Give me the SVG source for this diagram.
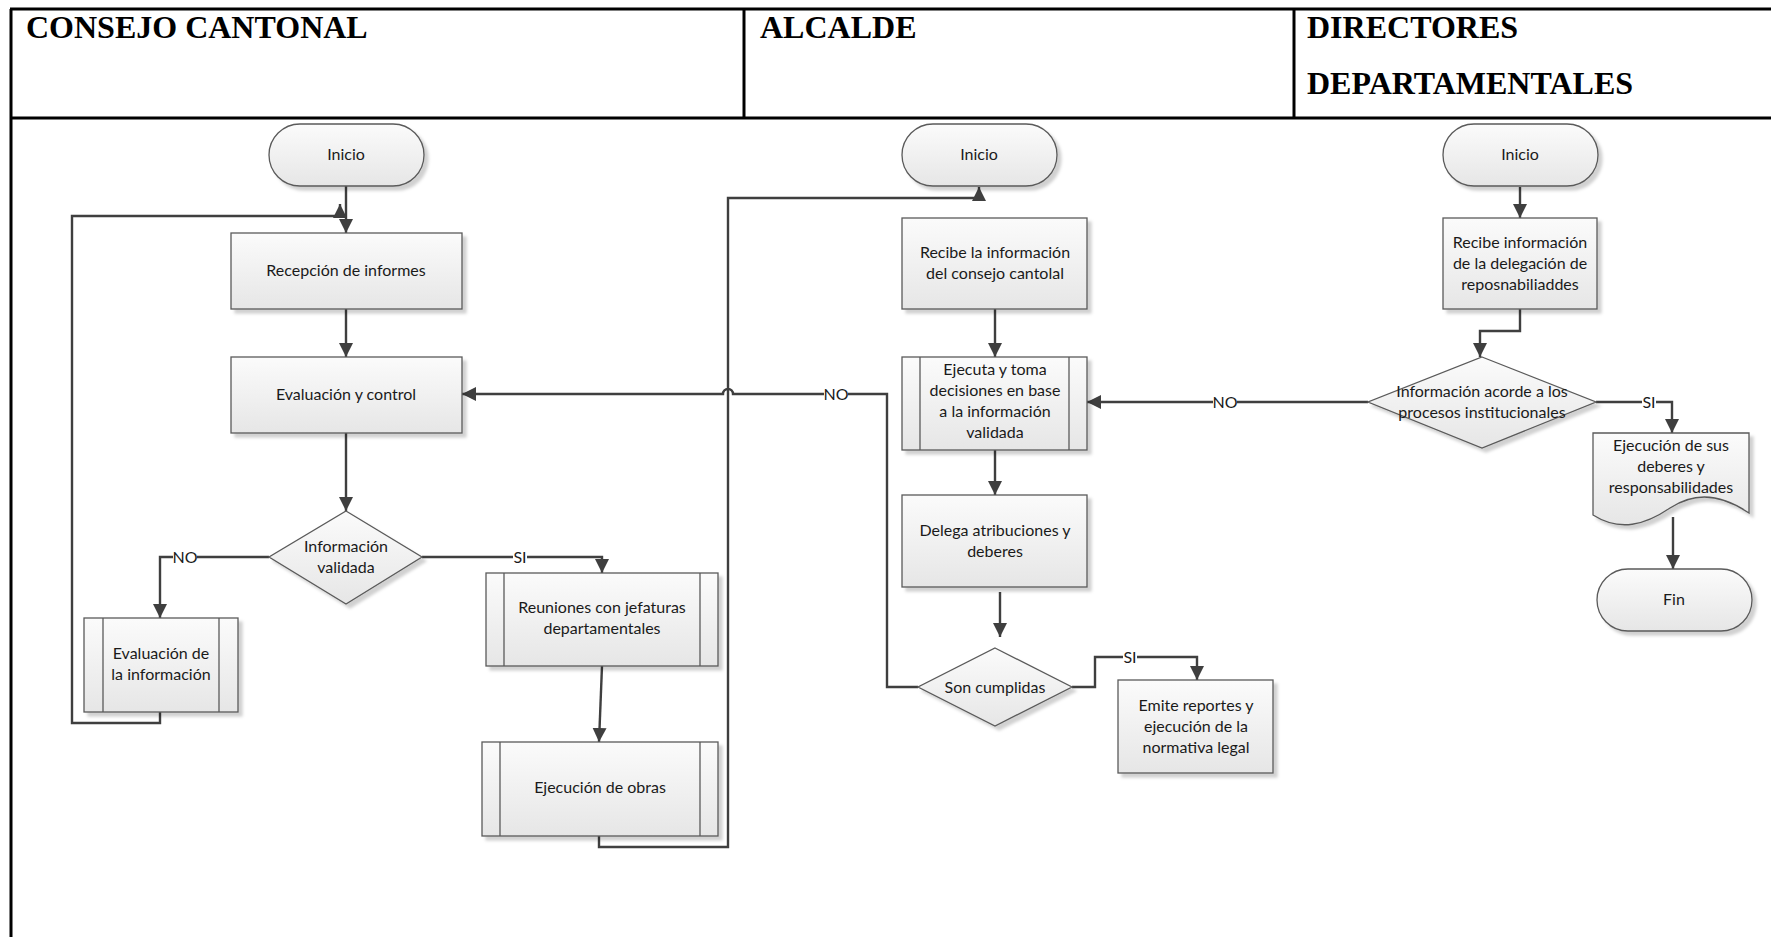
<svg xmlns="http://www.w3.org/2000/svg" width="1771" height="937" viewBox="0 0 1771 937">
  <defs>
    <linearGradient id="fillGrad" x1="0" y1="0" x2="0" y2="1">
      <stop offset="0" stop-color="#fbfbfb"/>
      <stop offset="1" stop-color="#e6e6e6"/>
    </linearGradient>
    <filter id="shadow" x="-10%" y="-10%" width="130%" height="130%">
      <feDropShadow dx="4" dy="4" stdDeviation="1.5" flood-color="#000" flood-opacity="0.18"/>
    </filter>
    <marker id="arrow" markerUnits="userSpaceOnUse" markerWidth="16" markerHeight="16" refX="14" refY="7" orient="auto">
      <path d="M0,0 L14,7 L0,14 z" fill="#3f3f3f"/>
    </marker>
    <style>
      .lane { stroke: #000; stroke-width: 3; fill: none; }
      .head { font-family: "Liberation Serif", "Times New Roman", serif; font-weight: bold; font-size: 32px; fill: #000; }
      .shape { fill: url(#fillGrad); stroke: #5a5a5a; stroke-width: 1.3; filter: url(#shadow); }
      .inner { stroke: #5a5a5a; stroke-width: 1.3; fill: none; }
      .lbl { font-family: Lato, "Open Sans", sans-serif; font-size: 16px; fill: #1a1a1a; text-anchor: middle; }
      .conn { stroke: #3f3f3f; stroke-width: 2.4; fill: none; }
      .arr { marker-end: url(#arrow); }
      .tagbg { fill: #fff; }
      .tag { font-family: Lato, "Open Sans", sans-serif; font-size: 16px; fill: #1a1a1a; text-anchor: middle; }
    </style>
  </defs>

  <rect width="1771" height="937" fill="#fff"/>

  <!-- swimlane table -->
  <g id="lanes">
    <line class="lane" x1="10" y1="9" x2="1771" y2="9"/>
    <line class="lane" x1="11" y1="9" x2="11" y2="937"/>
    <line class="lane" x1="10" y1="118" x2="1771" y2="118"/>
    <line class="lane" x1="744" y1="9" x2="744" y2="118" stroke-width="2"/>
    <line class="lane" x1="1294" y1="9" x2="1294" y2="118" stroke-width="2"/>
    <text class="head" x="26" y="38">CONSEJO CANTONAL</text>
    <text class="head" x="760" y="38">ALCALDE</text>
    <text class="head" x="1307" y="38">DIRECTORES</text>
    <text class="head" x="1307" y="94">DEPARTAMENTALES</text>
  </g>

  <!-- connectors -->
  <g id="connectors">
    <path class="conn arr" d="M346,186 V233"/>
    <path class="conn arr" d="M346,309 V357"/>
    <path class="conn arr" d="M346,433 V511"/>
    <path class="conn arr" d="M269,557 H160 V618"/>
    <path class="conn arr" d="M422,557 H602 V573"/>
    <path class="conn arr" d="M602,666 L599,742"/>
    <path class="conn arr" d="M160,712 V723 H72 V216 H340 V204"/>
    <path class="conn arr" d="M599,836 V847 H728 V198 H979 V187"/>
    <path class="conn arr" d="M918,687 H887 V394 H733 A5,5 0 0 0 723,394 H462"/>
    <path class="conn arr" d="M995,309 V357"/>
    <path class="conn arr" d="M995,450 V495"/>
    <path class="conn arr" d="M1000,592 V637"/>
    <path class="conn arr" d="M1072,687 H1095 V657 H1197 V680"/>
    <path class="conn arr" d="M1520,187 V218"/>
    <path class="conn arr" d="M1520,309 V331 H1480 V357"/>
    <path class="conn arr" d="M1368,402 H1087"/>
    <path class="conn arr" d="M1596,402 H1672 V433"/>
    <path class="conn arr" d="M1673,517 V569"/>
    <!-- branch labels on white backing -->
    <rect class="tagbg" x="173" y="549" width="24" height="16"/>
    <text class="tag" x="185" y="563">NO</text>
    <rect class="tagbg" x="513" y="549" width="14" height="16"/>
    <text class="tag" x="520" y="563">SI</text>
    <rect class="tagbg" x="824" y="386" width="24" height="16"/>
    <text class="tag" x="836" y="400">NO</text>
    <rect class="tagbg" x="1123" y="649" width="14" height="16"/>
    <text class="tag" x="1130" y="663">SI</text>
    <rect class="tagbg" x="1213" y="394" width="24" height="16"/>
    <text class="tag" x="1225" y="408">NO</text>
    <rect class="tagbg" x="1642" y="394" width="14" height="16"/>
    <text class="tag" x="1649" y="408">SI</text>
  </g>

  <!-- Consejo Cantonal lane -->
  <g id="inicio-consejo">
    <rect class="shape" x="269" y="124" width="155" height="62" rx="31"/>
    <text class="lbl" x="346" y="160">Inicio</text>
  </g>
  <g id="recepcion">
    <rect class="shape" x="231" y="233" width="231" height="76"/>
    <text class="lbl" x="346" y="276">Recepción de informes</text>
  </g>
  <g id="evaluacion-control">
    <rect class="shape" x="231" y="357" width="231" height="76"/>
    <text class="lbl" x="346" y="400">Evaluación y control</text>
  </g>
  <g id="informacion-validada">
    <polygon class="shape" points="346,511 422,557 346,604 269,557"/>
    <text class="lbl" x="346" y="552">Información</text>
    <text class="lbl" x="346" y="573">validada</text>
  </g>
  <g id="evaluacion-informacion">
    <rect class="shape" x="84" y="618" width="154" height="94"/>
    <line class="inner" x1="103" y1="618" x2="103" y2="712"/>
    <line class="inner" x1="219" y1="618" x2="219" y2="712"/>
    <text class="lbl" x="161" y="659">Evaluación de</text>
    <text class="lbl" x="161" y="680">la información</text>
  </g>
  <g id="reuniones">
    <rect class="shape" x="486" y="573" width="232" height="93"/>
    <line class="inner" x1="504" y1="573" x2="504" y2="666"/>
    <line class="inner" x1="700" y1="573" x2="700" y2="666"/>
    <text class="lbl" x="602" y="613">Reuniones con jefaturas</text>
    <text class="lbl" x="602" y="634">departamentales</text>
  </g>
  <g id="ejecucion-obras">
    <rect class="shape" x="482" y="742" width="236" height="94"/>
    <line class="inner" x1="500" y1="742" x2="500" y2="836"/>
    <line class="inner" x1="700" y1="742" x2="700" y2="836"/>
    <text class="lbl" x="600" y="793">Ejecución de obras</text>
  </g>

  <!-- Alcalde lane -->
  <g id="inicio-alcalde">
    <rect class="shape" x="902" y="124" width="155" height="62" rx="31"/>
    <text class="lbl" x="979" y="160">Inicio</text>
  </g>
  <g id="recibe-consejo">
    <rect class="shape" x="902" y="218" width="185" height="91"/>
    <text class="lbl" x="995" y="258">Recibe la información</text>
    <text class="lbl" x="995" y="279">del consejo cantolal</text>
  </g>
  <g id="ejecuta-decisiones">
    <rect class="shape" x="902" y="357" width="185" height="93"/>
    <line class="inner" x1="920" y1="357" x2="920" y2="450"/>
    <line class="inner" x1="1069" y1="357" x2="1069" y2="450"/>
    <text class="lbl" x="995" y="375">Ejecuta y toma</text>
    <text class="lbl" x="995" y="396">decisiones en base</text>
    <text class="lbl" x="995" y="417">a la información</text>
    <text class="lbl" x="995" y="438">validada</text>
  </g>
  <g id="delega">
    <rect class="shape" x="902" y="495" width="185" height="92"/>
    <text class="lbl" x="995" y="536">Delega atribuciones y</text>
    <text class="lbl" x="995" y="557">deberes</text>
  </g>
  <g id="son-cumplidas">
    <polygon class="shape" points="995,648 1072,687 995,726 918,687"/>
    <text class="lbl" x="995" y="693">Son cumplidas</text>
  </g>
  <g id="emite-reportes">
    <rect class="shape" x="1118" y="680" width="155" height="93"/>
    <text class="lbl" x="1196" y="711">Emite reportes y</text>
    <text class="lbl" x="1196" y="732">ejecución de la</text>
    <text class="lbl" x="1196" y="753">normativa legal</text>
  </g>

  <!-- Directores Departamentales lane -->
  <g id="inicio-directores">
    <rect class="shape" x="1443" y="124" width="155" height="62" rx="31"/>
    <text class="lbl" x="1520" y="160">Inicio</text>
  </g>
  <g id="recibe-delegacion">
    <rect class="shape" x="1443" y="218" width="154" height="91"/>
    <text class="lbl" x="1520" y="248">Recibe información</text>
    <text class="lbl" x="1520" y="269">de la delegación de</text>
    <text class="lbl" x="1520" y="290">reposnabiliaddes</text>
  </g>
  <g id="informacion-acorde">
    <polygon class="shape" points="1482,357 1596,402 1482,448 1368,402"/>
    <text class="lbl" x="1482" y="397">Información acorde a los</text>
    <text class="lbl" x="1482" y="418">procesos institucionales</text>
  </g>
  <g id="ejecucion-deberes">
    <path class="shape" d="M1593,433 H1749 V513 C1715,490 1690,495 1670,508 C1645,525 1620,532 1593,515 Z"/>
    <text class="lbl" x="1671" y="451">Ejecución de sus</text>
    <text class="lbl" x="1671" y="472">deberes y</text>
    <text class="lbl" x="1671" y="493">responsabilidades</text>
  </g>
  <g id="fin">
    <rect class="shape" x="1597" y="569" width="155" height="62" rx="31"/>
    <text class="lbl" x="1674" y="605">Fin</text>
  </g>
</svg>
